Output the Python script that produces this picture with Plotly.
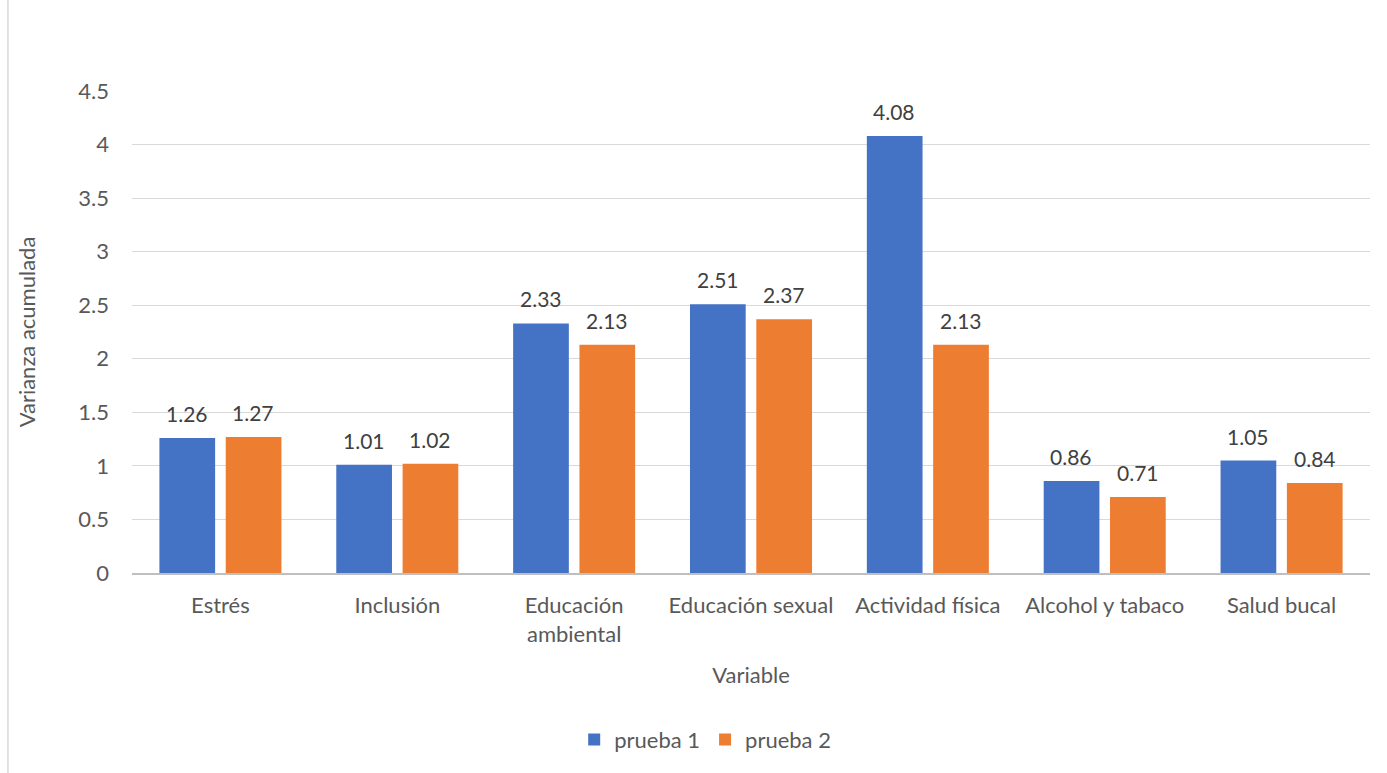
import plotly.graph_objects as go

categories = ["Estrés", "Inclusión", "Educación<br>ambiental", "Educación sexual",
              "Actividad física", "Alcohol y tabaco", "Salud bucal"]
prueba1 = [1.26, 1.01, 2.33, 2.51, 4.08, 0.86, 1.05]
prueba2 = [1.27, 1.02, 2.13, 2.37, 2.13, 0.71, 0.84]
y_ticks = [0, 0.5, 1, 1.5, 2, 2.5, 3, 3.5, 4, 4.5]

FONT = "Lato"
TXT = "#595959"
FS = 22

fig = go.Figure()
fig.add_trace(go.Bar(
    name="prueba 1", x=categories, y=prueba1,
    marker=dict(color="#4472C4", line=dict(width=0)),
))
fig.add_trace(go.Bar(
    name="prueba 2", x=categories, y=prueba2,
    marker=dict(color="#ED7D31", line=dict(width=0)),
))

annotations = []
for series, shift in ((prueba1, -33.5), (prueba2, 33)):
    for cat, val in zip(categories, series):
        annotations.append(dict(
            x=cat, y=val, xref="x", yref="y", text=f"{val:.2f}", showarrow=False,
            xshift=shift, yshift=10, yanchor="bottom",
            font=dict(family=FONT, size=21, color="#404040"),
        ))

fig.update_layout(
    width=1387, height=773,
    margin=dict(l=132, r=17, t=91, b=197),
    paper_bgcolor="white", plot_bgcolor="white",
    barmode="group", bargap=0.25, bargroupgap=0.16,
    font=dict(family=FONT, size=FS, color=TXT),
    showlegend=True,
    legend=dict(orientation="h", x=0.463, xanchor="center", y=-0.346, yanchor="middle",
                font=dict(family=FONT, size=FS, color=TXT), itemwidth=30,
                traceorder="normal"),
    xaxis=dict(
        title=dict(text="Variable", font=dict(family=FONT, size=FS, color=TXT), standoff=22),
        showgrid=False, showline=True, linecolor="#bfbfbf", linewidth=1.5,
        ticks="", tickfont=dict(family=FONT, size=FS, color=TXT), ticklabelstandoff=12,
    ),
    yaxis=dict(
        title=dict(text="Varianza acumulada", font=dict(family=FONT, size=FS, color=TXT), standoff=36),
        range=[0, 4.5], tickvals=y_ticks, ticktext=[f"{v:g}" for v in y_ticks],
        showgrid=True, gridcolor="#d9d9d9", gridwidth=1,
        zeroline=False, showline=False, ticks="",
        tickfont=dict(family=FONT, size=FS, color=TXT), ticklabelstandoff=22,
    ),
    annotations=annotations,
    shapes=[dict(type="line", xref="paper", yref="paper",
                 x0=-0.1002, x1=-0.1002, y0=-0.45, y1=1.25,
                 line=dict(color="#d9d9d9", width=1.5))],
)

fig.write_html("out.html")
